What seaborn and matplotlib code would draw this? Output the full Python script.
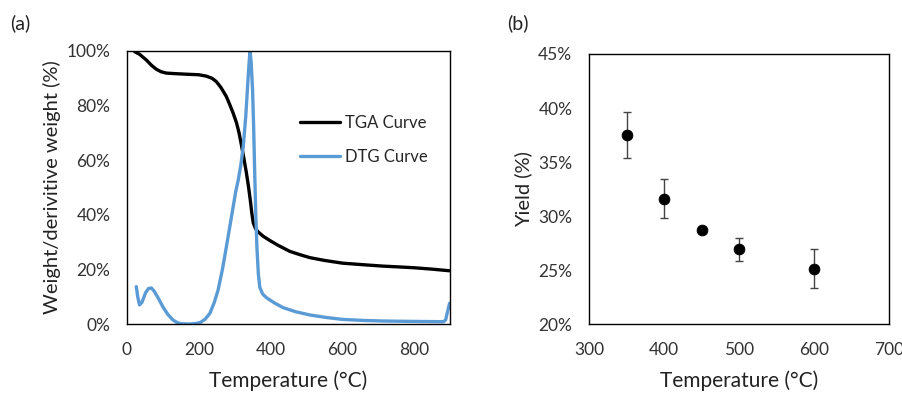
import numpy as np
import pandas as pd
import matplotlib.pyplot as plt
import seaborn as sns
from matplotlib.ticker import PercentFormatter

# (a) TGA / DTG curves
tga_temp = [21, 35, 54, 68, 82, 95, 110, 135, 165, 200, 221, 237, 249, 262, 277,
            286, 296, 305, 312, 319, 326, 333, 339, 344, 348, 352, 358, 365, 380,
            398, 420, 454, 482, 510, 550, 600, 660, 714, 760, 801, 850, 899]
tga_weight = [99.8, 98.8, 96.7, 94.8, 93.3, 92.4, 91.9, 91.7, 91.5, 91.3, 90.8,
              90.0, 88.8, 86.6, 83.3, 80.5, 77.2, 73.8, 70.2, 65.5, 60.5, 55.2,
              50.0, 45.0, 40.5, 37.0, 35.0, 33.8, 32.1, 30.6, 28.9, 26.6, 25.4,
              24.3, 23.3, 22.3, 21.7, 21.2, 20.9, 20.6, 20.1, 19.5]

dtg_temp = [26, 30, 35, 42, 52, 60, 68, 76, 88, 100, 114, 128, 140, 150, 175, 193,
            205, 218, 231, 243, 254, 266, 277, 287, 296, 303, 310, 317, 324, 331,
            337, 341, 343, 346, 350, 353, 356, 359, 362, 366, 370, 378, 389, 410,
            435, 470, 510, 555, 600, 660, 714, 800, 882, 888, 892, 896, 899]
dtg_value = [13.7, 10.0, 7.0, 8.0, 11.5, 13.0, 13.2, 12.0, 9.3, 6.3, 3.5, 1.5, 0.5,
             0.1, 0.0, 0.2, 0.6, 1.8, 3.9, 7.8, 12.5, 20.0, 28.3, 36.0, 43.0, 48.5,
             52.7, 58.0, 65.0, 76.0, 89.0, 97.0, 100.0, 96.0, 85.7, 72.0, 55.0,
             40.0, 28.3, 18.5, 13.5, 11.0, 9.6, 7.8, 6.0, 4.5, 3.3, 2.4, 1.7, 1.3,
             1.1, 0.95, 0.85, 1.5, 3.9, 6.0, 7.6]

# (b) yield vs temperature
yield_temp = [350, 400, 450, 500, 600]
yield_pct = [37.5, 31.6, 28.7, 26.9, 25.1]
yield_err = [2.1, 1.8, 0.3, 1.1, 1.8]

sns.set_theme(style="white")
plt.rcParams['font.family'] = ['Lato', 'DejaVu Sans']

fig = plt.figure(figsize=(9.03, 3.95), dpi=100)
ax1 = fig.add_axes([0.1406, 0.1797, 0.3577, 0.6912])
ax2 = fig.add_axes([0.6523, 0.1797, 0.3322, 0.6836])

df_tga = pd.DataFrame({"T": tga_temp, "v": tga_weight})
df_dtg = pd.DataFrame({"T": dtg_temp, "v": dtg_value})
sns.lineplot(data=df_tga, x="T", y="v", ax=ax1, color="black", linewidth=2.4,
             label="TGA Curve")
sns.lineplot(data=df_dtg, x="T", y="v", ax=ax1, color="#5b9bd5", linewidth=2.4,
             label="DTG Curve")
ax1.set_xlim(0, 900)
ax1.set_ylim(0, 100)
ax1.set_xticks([0, 200, 400, 600, 800])
ax1.set_yticks([0, 20, 40, 60, 80, 100])
ax1.yaxis.set_major_formatter(PercentFormatter(decimals=0))
ax1.set_xlabel("Temperature (°C)", fontsize=15, color="#222222", labelpad=9)
ax1.set_ylabel("Weight/derivitive weight (%)", fontsize=14.5, color="#222222",
               labelpad=4)
ax1.legend(loc="center left", bbox_to_anchor=(0.535, 0.675), frameon=False,
           fontsize=12, handlelength=2.4, labelspacing=1.1, handletextpad=0.3,
           borderpad=0, borderaxespad=0)

df_y = pd.DataFrame({"T": yield_temp, "y": yield_pct})
ax2.errorbar(yield_temp, yield_pct, yerr=yield_err, fmt="none", ecolor="#444444",
             elinewidth=1, capsize=3, capthick=1, zorder=2)
sns.scatterplot(data=df_y, x="T", y="y", ax=ax2, color="black", s=60,
                edgecolor="black", zorder=3)
ax2.set_xlim(300, 700)
ax2.set_ylim(20, 45)
ax2.set_xticks([300, 400, 500, 600, 700])
ax2.set_yticks([20, 25, 30, 35, 40, 45])
ax2.yaxis.set_major_formatter(PercentFormatter(decimals=0))
ax2.set_xlabel("Temperature (°C)", fontsize=15, color="#222222", labelpad=9)
ax2.set_ylabel("Yield (%)", fontsize=14.5, color="#222222", labelpad=4)

for ax in (ax1, ax2):
    for s in ax.spines.values():
        s.set_color("black")
        s.set_linewidth(1.0)
    ax.tick_params(axis="both", labelsize=12.5, colors="#333333", length=4,
                   width=1, direction="in")
    ax.tick_params(axis="both", color="black")
    ax.tick_params(axis="y", pad=12)
    ax.tick_params(axis="x", pad=13)

fig.text(0.011, 0.925, "(a)", fontsize=14, color="#222222")
fig.text(0.562, 0.925, "(b)", fontsize=14, color="#222222")

fig.savefig("out.png", dpi=100)
